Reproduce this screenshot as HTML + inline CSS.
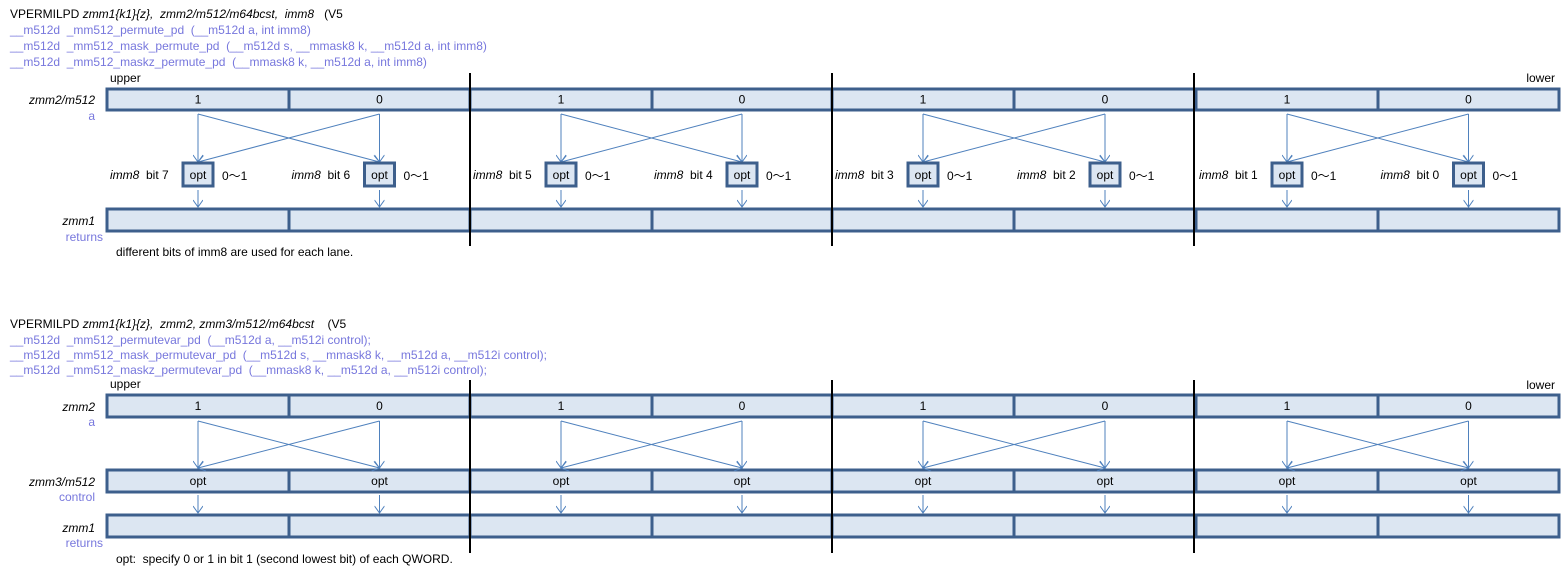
<!DOCTYPE html>
<html><head><meta charset="utf-8"><style>
body{margin:0;background:#fff;width:1566px;height:573px;overflow:hidden}
svg{display:block}
text{font-family:"Liberation Sans",sans-serif;font-size:12px;white-space:pre}
.b{fill:#7777dd}.k{fill:#000}
</style></head><body>
<svg id="s" width="1566" height="573" viewBox="0 0 1566 573" xml:space="preserve">
<defs><marker id="a" markerWidth="10" markerHeight="10" refX="9" refY="5" orient="auto" markerUnits="userSpaceOnUse" viewBox="0 0 10 10"><path d="M2,0 L9,5 L2,10" fill="none" stroke="#4f81bd" stroke-width="1"/></marker></defs>
<text x="10" y="18" class="k">VPERMILPD <tspan font-style="italic">zmm1{k1}{z},  zmm2/m512/m64bcst,  imm8</tspan>   (V5</text>
<text x="10" y="34" class="b">__m512d  _mm512_permute_pd  (__m512d a, int imm8)</text>
<text x="10" y="50" class="b">__m512d  _mm512_mask_permute_pd  (__m512d s, __mmask8 k, __m512d a, int imm8)</text>
<text x="10" y="66" class="b">__m512d  _mm512_maskz_permute_pd  (__mmask8 k, __m512d a, int imm8)</text>
<text x="110" y="82" class="k">upper</text>
<text x="1555" y="82" class="k" text-anchor="end">lower</text>
<text x="95" y="104" class="k" text-anchor="end" font-style="italic">zmm2/m512</text>
<text x="95" y="120" class="b" text-anchor="end">a</text>
<text x="95" y="225" class="k" text-anchor="end" font-style="italic">zmm1</text>
<text x="103" y="241" class="b" text-anchor="end">returns</text>
<text x="116" y="256" class="k">different bits of imm8 are used for each lane.</text>

<text x="10" y="328" class="k">VPERMILPD <tspan font-style="italic">zmm1{k1}{z},  zmm2, zmm3/m512/m64bcst</tspan>    (V5</text>
<text x="10" y="344" class="b">__m512d  _mm512_permutevar_pd  (__m512d a, __m512i control);</text>
<text x="10" y="359" class="b">__m512d  _mm512_mask_permutevar_pd  (__m512d s, __mmask8 k, __m512d a, __m512i control);</text>
<text x="10" y="374" class="b">__m512d  _mm512_maskz_permutevar_pd  (__mmask8 k, __m512d a, __m512i control);</text>
<text x="110" y="388" class="k">upper</text>
<text x="1555" y="389" class="k" text-anchor="end">lower</text>
<text x="95" y="411" class="k" text-anchor="end" font-style="italic">zmm2</text>
<text x="95" y="426" class="b" text-anchor="end">a</text>
<text x="95" y="486" class="k" text-anchor="end" font-style="italic">zmm3/m512</text>
<text x="95" y="501" class="b" text-anchor="end">control</text>
<text x="95" y="532" class="k" text-anchor="end" font-style="italic">zmm1</text>
<text x="103" y="547" class="b" text-anchor="end">returns</text>
<text x="116" y="563" class="k">opt:  specify 0 or 1 in bit 1 (second lowest bit) of each QWORD.</text>
<g id="g"></g>
</svg>
<script>
var g=document.getElementById('g'),h='';
var xs=[107,289,470,652,832,1014,1196,1378,1559];
function row(y,hh,labels){
 h+='<rect x="107" y="'+y+'" width="1452" height="'+hh+'" fill="#dce6f2" stroke="#3d5f8c" stroke-width="3"/>';
 for(var i=1;i<8;i++)h+='<line x1="'+xs[i]+'" y1="'+y+'" x2="'+xs[i]+'" y2="'+(y+hh)+'" stroke="#3d5f8c" stroke-width="3"/>';
 if(labels)for(var i=0;i<8;i++){var c=(xs[i]+xs[i+1])/2;h+='<text x="'+c+'" y="'+(y+hh/2+4)+'" text-anchor="middle" class="k">'+labels[i]+'</text>';}
}
function ln(x1,y1,x2,y2){h+='<line x1="'+x1+'" y1="'+y1+'" x2="'+x2+'" y2="'+y2+'" stroke="#4f81bd" stroke-width="1" marker-end="url(#a)"/>';}
var ten=['1','0','1','0','1','0','1','0'];
row(89,21,ten);row(209,22,null);
for(var l=0;l<4;l++){
 var c0=(xs[2*l]+xs[2*l+1])/2,c1=(xs[2*l+1]+xs[2*l+2])/2;
 ln(c0,114,c0,162);ln(c1,114,c1,162);ln(c0,114,c1,162);ln(c1,114,c0,162);
 [c0,c1].forEach(function(c,j){
  h+='<rect x="'+(c-15)+'" y="163" width="30" height="23" fill="#dce6f2" stroke="#3d5f8c" stroke-width="3"/>';
  h+='<text x="'+c+'" y="179" text-anchor="middle" class="k">opt</text>';
  h+='<text x="'+(c+24)+'" y="180" class="k">0～1</text>';
  h+='<text x="'+(c-88)+'" y="179" class="k"><tspan font-style="italic">imm8</tspan>  bit '+(7-2*l-j)+'</text>';
  ln(c,190,c,207);
 });
}
row(395,22,ten);row(470,22,['opt','opt','opt','opt','opt','opt','opt','opt']);row(515,22,null);
for(var l=0;l<4;l++){
 var c0=(xs[2*l]+xs[2*l+1])/2,c1=(xs[2*l+1]+xs[2*l+2])/2;
 ln(c0,421,c0,468);ln(c1,421,c1,468);ln(c0,421,c1,468);ln(c1,421,c0,468);
 ln(c0,495,c0,513);ln(c1,495,c1,513);
}
[470,832,1194].forEach(function(x){
 h+='<line x1="'+x+'" y1="73" x2="'+x+'" y2="246" stroke="#000" stroke-width="2"/>';
 h+='<line x1="'+x+'" y1="380" x2="'+x+'" y2="553" stroke="#000" stroke-width="2"/>';
});
g.innerHTML=h;
</script>
</body></html>
